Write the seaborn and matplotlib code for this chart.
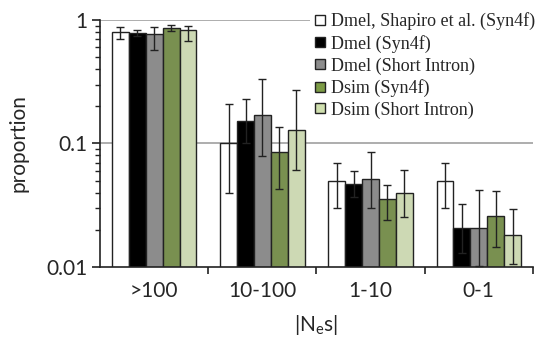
import numpy as np
import pandas as pd
import matplotlib
matplotlib.use("Agg")
import matplotlib.pyplot as plt
import seaborn as sns
from matplotlib.lines import Line2D
from matplotlib.ticker import FixedLocator, NullFormatter

categories = [">100", "10-100", "1-10", "0-1"]
series = ["Dmel, Shapiro et al. (Syn4f)", "Dmel (Syn4f)", "Dmel (Short Intron)",
          "Dsim (Syn4f)", "Dsim (Short Intron)"]
colors = ["#ffffff", "#000000", "#8c8c8c", "#7c9b45", "#cfdfae"]

values = {
    "Dmel, Shapiro et al. (Syn4f)": [0.80, 0.100, 0.050, 0.050],
    "Dmel (Syn4f)":                 [0.78, 0.152, 0.047, 0.0206],
    "Dmel (Short Intron)":          [0.77, 0.171, 0.051, 0.0206],
    "Dsim (Syn4f)":                 [0.86, 0.085, 0.0355, 0.026],
    "Dsim (Short Intron)":          [0.83, 0.129, 0.040, 0.018],
}
err_low = {
    "Dmel, Shapiro et al. (Syn4f)": [0.70, 0.040, 0.030, 0.030],
    "Dmel (Syn4f)":                 [0.74, 0.100, 0.037, 0.013],
    "Dmel (Short Intron)":          [0.57, 0.079, 0.030, 0.0101],
    "Dsim (Syn4f)":                 [0.81, 0.043, 0.024, 0.0146],
    "Dsim (Short Intron)":          [0.67, 0.061, 0.0255, 0.0106],
}
err_high = {
    "Dmel, Shapiro et al. (Syn4f)": [0.88, 0.210, 0.070, 0.070],
    "Dmel (Syn4f)":                 [0.83, 0.228, 0.060, 0.032],
    "Dmel (Short Intron)":          [0.88, 0.333, 0.085, 0.042],
    "Dsim (Syn4f)":                 [0.91, 0.136, 0.046, 0.041],
    "Dsim (Short Intron)":          [0.90, 0.273, 0.061, 0.0295],
}

rows = []
for s in series:
    for i, c in enumerate(categories):
        rows.append({"cat": c, "series": s, "value": values[s][i],
                     "lo": err_low[s][i], "hi": err_high[s][i]})
df = pd.DataFrame(rows)

sns.set_style("white")
plt.rcParams['font.family'] = ['Lato', 'DejaVu Sans']

fig = plt.figure(figsize=(5.41, 3.39), dpi=100)
ax = fig.add_axes([0.185, 0.213, 0.800, 0.728])

sns.barplot(data=df, x="cat", y="value", hue="series", order=categories,
            hue_order=series, palette=colors, errorbar=None, width=0.78,
            edgecolor="#222222", linewidth=1.0, ax=ax, legend=False, zorder=2)
ax.set_yscale("log")
ax.set_ylim(0.01, 1)
ax.set_xlim(-0.5, 3.5)

# error bars aligned to bar patches
k = 0
for s in series:
    for i, c in enumerate(categories):
        p = ax.patches[k]
        k += 1
        xc = p.get_x() + p.get_width() / 2
        v = values[s][i]
        lo = err_low[s][i]
        hi = err_high[s][i]
        ax.errorbar(xc, v, yerr=[[v - lo], [hi - v]], fmt="none",
                    ecolor="#222222", elinewidth=1.0, capsize=3, capthick=1.0, zorder=3)

# grid lines at major decades
for yv in [1, 0.1]:
    ax.axhline(yv, color="#a0a0a0", lw=1.2, zorder=1)

for sp in ["top", "right"]:
    ax.spines[sp].set_visible(False)
for sp in ["left", "bottom"]:
    ax.spines[sp].set_color("#222222")
    ax.spines[sp].set_linewidth(1.2)

ax.yaxis.set_major_locator(FixedLocator([0.01, 0.1, 1]))
ax.set_yticklabels(["0.01", "0.1", "1"])
ax.yaxis.set_minor_formatter(NullFormatter())
ax.tick_params(axis="y", which="major", length=6, width=1.2, color="#222222",
               labelsize=15, pad=3, left=True, direction="out")
ax.tick_params(axis="y", which="minor", length=3.5, width=1.0, color="#222222",
               left=True, direction="out")

ax.set_xticks(range(len(categories)))
ax.set_xticklabels(categories)
ax.set_xticks([0.5, 1.5, 2.5, 3.5], minor=True)
ax.tick_params(axis="x", which="major", length=0, labelsize=15, pad=10)
ax.tick_params(axis="x", which="minor", length=5, width=1.2, color="#222222",
               bottom=True, direction="out")

ax.set_ylabel("proportion", fontsize=15, labelpad=13)
ax.set_xlabel(r"|N$_\mathregular{e}$s|", fontsize=15, labelpad=9)

handles = [Line2D([0], [0], marker="s", linestyle="none", markersize=7.5,
                  markerfacecolor=col, markeredgecolor="#222222", markeredgewidth=1.0)
           for col in colors]
leg = fig.legend(handles, series, loc="upper left", bbox_to_anchor=(0.566, 0.985),
                 frameon=True, facecolor="white", edgecolor="none", framealpha=1,
                 prop={"family": "Liberation Serif", "size": 13},
                 handlelength=0.7, handletextpad=0.3, labelspacing=0.25,
                 borderaxespad=0.2, borderpad=0.2)

fig.savefig("out.png", dpi=100)
